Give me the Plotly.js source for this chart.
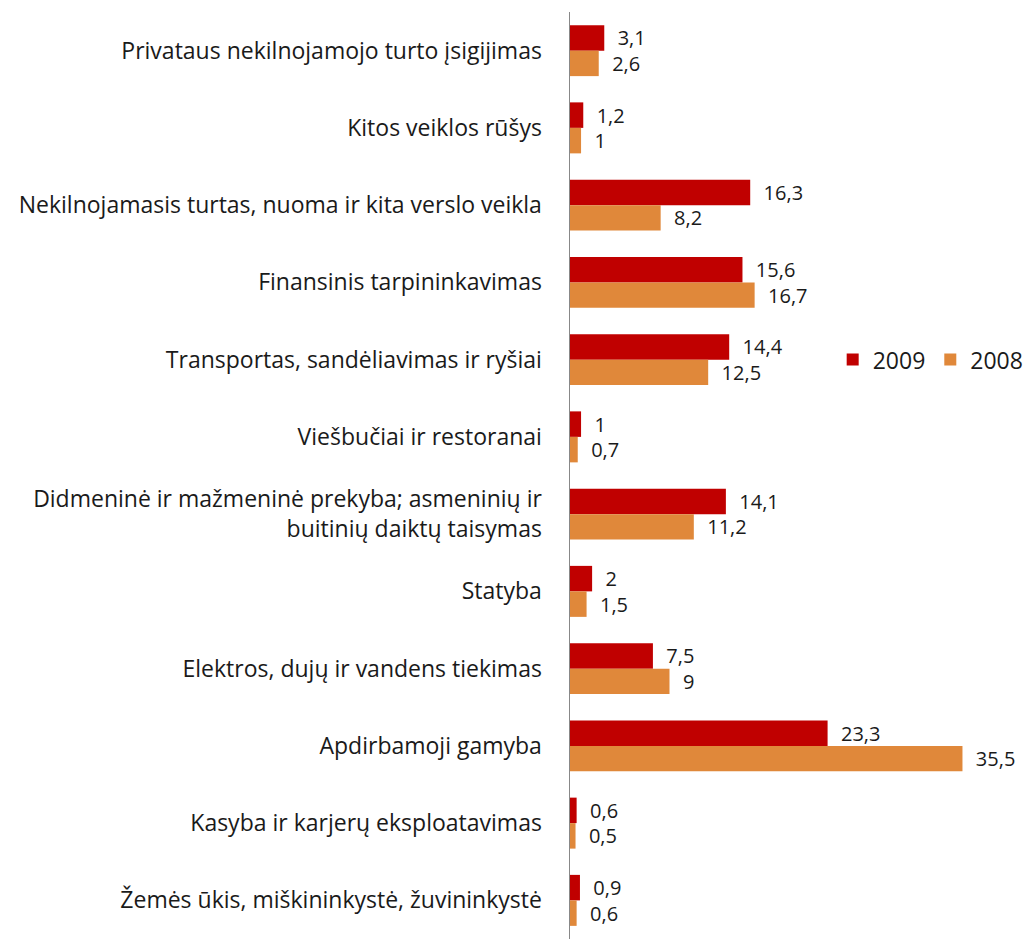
<!DOCTYPE html>
<html>
<head>
<meta charset="utf-8">
<script src="https://cdn.plot.ly/plotly-3.0.1.min.js"></script>
<style>html,body{margin:0;padding:0;background:#fff;}#chart{width:1029px;height:939px;}</style>
</head>
<body>
<div id="chart"></div>
<script>
const categories = [
  "Privataus nekilnojamojo turto įsigijimas",
  "Kitos veiklos rūšys",
  "Nekilnojamasis turtas, nuoma ir kita verslo veikla",
  "Finansinis tarpininkavimas",
  "Transportas, sandėliavimas ir ryšiai",
  "Viešbučiai ir restoranai",
  "Didmeninė ir mažmeninė prekyba; asmeninių ir<br>buitinių daiktų taisymas",
  "Statyba",
  "Elektros, dujų ir vandens tiekimas",
  "Apdirbamoji gamyba",
  "Kasyba ir karjerų eksploatavimas",
  "Žemės ūkis, miškininkystė, žuvininkystė"
];
const values2009 = [3.1, 1.2, 16.3, 15.6, 14.4, 1, 14.1, 2, 7.5, 23.3, 0.6, 0.9];
const values2008 = [2.6, 1, 8.2, 16.7, 12.5, 0.7, 11.2, 1.5, 9, 35.5, 0.5, 0.6];
const seriesNames = ["2009", "2008"];

const fmt = v => '\u00a0\u00a0' + String(v).replace('.', ',');
const font = {family: "'Open Sans', sans-serif", size: 23, color: '#1a1a1a'};
const labelFont = {family: "'Open Sans', sans-serif", size: 20, color: '#1a1a1a'};

const traces = [
  {name: seriesNames[0], vals: values2009, color: '#C00000'},
  {name: seriesNames[1], vals: values2008, color: '#E0883A'}
].map(s => ({
  type: 'bar', orientation: 'h', name: s.name,
  x: s.vals, y: categories,
  marker: {color: s.color, line: {width: 0}},
  text: s.vals.map(fmt), textposition: 'outside', cliponaxis: false,
  constraintext: 'none',
  textfont: labelFont, hoverinfo: 'x+y'
}));

const layout = {
  width: 1029, height: 939,
  margin: {l: 570, r: 50, t: 12, b: 0},
  paper_bgcolor: '#fff', plot_bgcolor: '#fff',
  barmode: 'group', bargap: 0.34, bargroupgap: 0,
  separators: ', ',
  font: font,
  showlegend: true,
  legend: {orientation: 'h', x: 0.66, y: 0.625, xanchor: 'left', yanchor: 'middle',
           font: font, bgcolor: 'rgba(0,0,0,0)', itemwidth: 30},
  xaxis: {range: [0, 36], showgrid: false, zeroline: false, showticklabels: false,
          showline: false, ticks: ''},
  yaxis: {autorange: 'reversed', showgrid: false, zeroline: false,
          showline: true, linecolor: '#888', linewidth: 1.5,
          ticks: 'outside', ticklen: 22, tickcolor: 'rgba(0,0,0,0)',
          tickfont: font, automargin: false}
};

Plotly.newPlot('chart', traces, layout, {displayModeBar: false, staticPlot: true});
</script>
</body>
</html>
